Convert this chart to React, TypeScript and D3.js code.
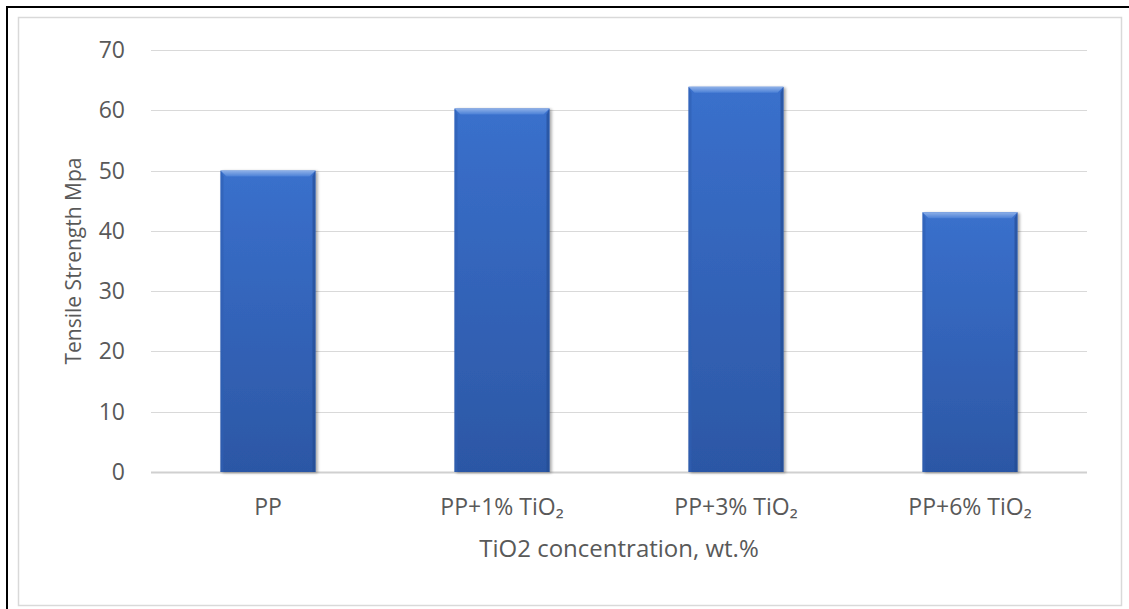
import React from "react";
import * as d3 from "d3";

const categories = ["PP", "PP+1% TiO₂", "PP+3% TiO₂", "PP+6% TiO₂"];
const values = [50, 60.3, 63.9, 43.1];
const yTicks = [0, 10, 20, 30, 40, 50, 60, 70];
const xTitle = "TiO2 concentration, wt.%";
const yTitle = "Tensile Strength Mpa";

const W = 1129;
const H = 609;
const FONT = "'Open Sans', 'Liberation Sans', sans-serif";
const TEXT = "#595959";

export default function App() {
  const x = d3
    .scaleBand<string>()
    .domain(categories)
    .range([151, 1087])
    .paddingInner(0.594)
    .paddingOuter(0.297);
  const y = d3.scaleLinear().domain([0, 70]).range([472, 50]);
  const bw = x.bandwidth();
  const bev = 6;

  return (
    <svg
      width={W}
      height={H}
      style={{ position: "absolute", left: 0, top: 0, background: "#fff" }}
      fontFamily={FONT}
    >
      <defs>
        <linearGradient id="barGrad" x1="0" y1="0" x2="0" y2="1">
          <stop offset="0" stopColor="#3a70cc" />
          <stop offset="1" stopColor="#2c57a5" />
        </linearGradient>
        <linearGradient id="topBev" x1="0" y1="0" x2="0" y2="1">
          <stop offset="0" stopColor="#8fb1e8" />
          <stop offset="1" stopColor="#4b80d6" />
        </linearGradient>
        <filter id="shadow" x="-10%" y="-10%" width="130%" height="120%">
          <feGaussianBlur in="SourceAlpha" stdDeviation="1.5" />
          <feOffset dx="1.5" dy="1" result="b" />
          <feComponentTransfer>
            <feFuncA type="linear" slope="0.35" />
          </feComponentTransfer>
          <feMerge>
            <feMergeNode />
            <feMergeNode in="SourceGraphic" />
          </feMerge>
        </filter>
      </defs>
      <rect x={0} y={0} width={W} height={H} fill="#fff" />
      {/* outer black frame */}
      <rect x={7} y={7} width={W + 10} height={H + 10} fill="none" stroke="#000" strokeWidth={2} />
      {/* chart area border */}
      <rect x={18.5} y={17.5} width={1103} height={588} fill="#fff" stroke="#d9d9d9" strokeWidth={1.5} />

      {/* gridlines */}
      {yTicks.map((t) => (
        <line
          key={t}
          x1={151}
          x2={1087}
          y1={Math.round(y(t)) + 0.5}
          y2={Math.round(y(t)) + 0.5}
          stroke={t === 0 ? "#d0d0d0" : "#d9d9d9"}
          strokeWidth={t === 0 ? 2 : 1}
        />
      ))}
      {/* y tick labels */}
      {yTicks.map((t) => (
        <text
          key={"l" + t}
          x={125}
          y={y(t)}
          dy="0.35em"
          textAnchor="end"
          fontSize={23}
          fill={TEXT}
        >
          {t}
        </text>
      ))}

      {/* bars */}
      {categories.map((c, i) => {
        const bx = x(c)!;
        const by = y(values[i]);
        const bh = y(0) - by;
        return (
          <g key={c} filter="url(#shadow)">
            <rect x={bx} y={by} width={bw} height={bh} fill="url(#barGrad)" />
            <polygon
              points={`${bx},${by} ${bx + bw},${by} ${bx + bw - bev},${by + bev} ${bx + bev},${by + bev}`}
              fill="url(#topBev)"
            />
            <polygon
              points={`${bx},${by} ${bx + bev * 0.5},${by + bev} ${bx + bev * 0.5},${by + bh} ${bx},${by + bh}`}
              fill="#2f5fb3"
              opacity={0.6}
            />
            <polygon
              points={`${bx + bw},${by} ${bx + bw - bev * 0.5},${by + bev} ${bx + bw - bev * 0.5},${by + bh} ${bx + bw},${by + bh}`}
              fill="#234a8f"
              opacity={0.6}
            />
          </g>
        );
      })}

      {/* category labels */}
      {categories.map((c) => (
        <text
          key={"c" + c}
          x={x(c)! + bw / 2}
          y={515}
          textAnchor="middle"
          fontSize={23}
          fill={TEXT}
        >
          {c}
        </text>
      ))}

      {/* axis titles */}
      <text x={619} y={557} textAnchor="middle" fontSize={24} fill={TEXT}>
        {xTitle}
      </text>
      <text
        transform={`translate(81, ${261}) rotate(-90)`}
        textAnchor="middle"
        fontSize={21}
        fill={TEXT}
      >
        {yTitle}
      </text>
    </svg>
  );
}
